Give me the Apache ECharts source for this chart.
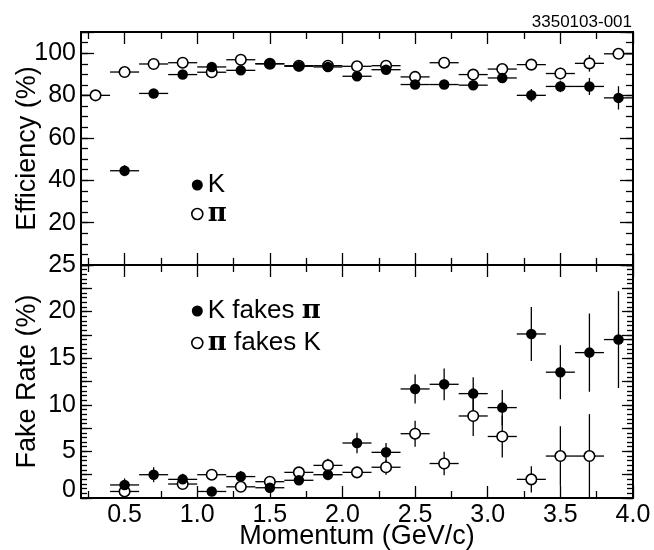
<!DOCTYPE html>
<html><head><meta charset="utf-8">
<script src="https://cdn.jsdelivr.net/npm/echarts@6/dist/echarts.min.js"></script>
<style>html,body{margin:0;padding:0;background:#fff}#c{width:654px;height:550px}</style>
</head><body><div id="c"></div>
<script>
// ---------- data ----------
const momentum = [0.3,0.5,0.7,0.9,1.1,1.3,1.5,1.7,1.9,2.1,2.3,2.5,2.7,2.9,3.1,3.3,3.5,3.7,3.9];
const binHalfWidth = 0.1;
const effK     = [null,44.5,81.0,89.9,93.5,91.9,95.0,93.8,93.5,89.1,92.2,85.2,85.2,84.9,88.3,80.1,84.3,84.3,78.9];
const effKErr  = [null,2.6,1.0,1.0,0.8,0.8,0.8,0.8,0.8,1.0,1.0,1.2,1.2,1.3,1.5,3.0,2.7,4.0,5.5];
const effPi    = [80.1,91.1,94.9,95.5,91.0,96.9,95.0,94.1,94.1,93.8,94.1,88.8,95.5,89.9,92.5,94.6,90.4,95.2,99.7];
const effPiErr = [0.6,0.6,0.6,0.6,0.6,0.8,0.8,0.8,0.8,0.8,0.8,1.0,1.2,1.2,1.4,1.5,2.7,3.9,1.0];
const fakeK     = [null,1.4,2.5,2.0,0.7,2.3,1.1,1.9,2.5,5.9,4.9,11.7,12.2,11.2,9.7,17.6,13.5,15.6,17.0];
const fakeKErr  = [null,0.7,0.8,0.6,0.4,0.6,0.5,0.5,0.6,1.1,1.0,1.55,1.7,1.75,1.9,2.9,2.9,4.2,5.2];
const fakePi    = [null,0.7,null,1.5,2.5,1.2,1.75,2.75,3.5,2.75,3.3,6.9,3.7,8.8,6.6,2.0,4.5,4.5,null];
const fakePiErr = [null,0.5,null,0.5,0.5,0.5,0.5,0.5,0.7,0.6,0.8,1.4,1.25,2.15,2.25,1.4,3.2,4.5,null];

const xLabels = [0.5,1.0,1.5,2.0,2.5,3.0,3.5,4.0];
const xMinorTicks = [0.25,0.75,1.25,1.75,2.25,2.75,3.25,3.75];
const effLabels = [20,40,60,80,100];
const fakeLabels = [0,5,10,15,20,25];

// ---------- layout ----------
const FONT = 'Liberation Sans, Arial, Helvetica, sans-serif';
const L = 81, R = 21;
const grids = [
  {left:L, right:R, top:32, height:233, containLabel:false, outerBoundsMode:'none'},
  {left:L, right:R, top:265, height:233, containLabel:false, outerBoundsMode:'none'}
];
const xMin = 0.2, xMax = 4.0;

const xAxes = [];
function addX(grid, position, ticks, len, extra) {
  xAxes.push(Object.assign({
    gridIndex:grid, type:'value', position:position, min:xMin, max:xMax,
    axisLine:{show:true, onZero:false, lineStyle:{color:'#000', width:2}},
    axisTick:{show:true, inside:true, length:len, customValues:ticks, lineStyle:{color:'#000', width:1.3}},
    axisLabel:{show:false}, splitLine:{show:false}
  }, extra || {}));
}
addX(0,'bottom',xLabels,12);
addX(1,'bottom',xLabels,12,{
  axisLabel:{show:true, customValues:xLabels, formatter:v=>v.toFixed(1), fontSize:25, fontFamily:FONT, color:'#000', margin:5},
  name:'Momentum (GeV/c)', nameLocation:'middle', nameGap:25, nameMoveOverlap:false,
  nameTextStyle:{fontSize:27, fontFamily:FONT, color:'#000'}
});
addX(0,'bottom',xMinorTicks,7);
addX(0,'top',xLabels,12);
addX(0,'top',xMinorTicks,7);
addX(1,'bottom',xMinorTicks,7);
addX(1,'top',xLabels,12);
addX(1,'top',xMinorTicks,7);

const yAxes = [];
function addY(grid, position, min, max, interval, len, extra) {
  yAxes.push(Object.assign({
    gridIndex:grid, type:'value', position:position, min:min, max:max, interval:interval,
    axisLine:{show:true, onZero:false, lineStyle:{color:'#000', width:2}},
    axisTick:{show:true, inside:true, length:len, lineStyle:{color:'#000', width:1.3}},
    axisLabel:{show:false}, splitLine:{show:false}
  }, extra || {}));
}
addY(0,'left',0,110,20,13,{
  axisLabel:{show:true, customValues:effLabels, fontSize:25, fontFamily:FONT, color:'#000', margin:5},
  name:'Efficiency (%)', nameLocation:'middle', nameGap:40, nameMoveOverlap:false,
  nameTextStyle:{fontSize:27, fontFamily:FONT, color:'#000'}
});
addY(1,'left',0,25,2.5,11,{
  axisLabel:{show:true, customValues:fakeLabels, fontSize:25, fontFamily:FONT, color:'#000', margin:5,
    formatter:v=> v===0 ? '{z|0}' : String(v),
    rich:{z:{fontSize:25, fontFamily:FONT, color:'#000', padding:[0,0,16,0]}}},
  name:'Fake Rate (%)', nameLocation:'middle', nameGap:40, nameMoveOverlap:false,
  nameTextStyle:{fontSize:27, fontFamily:FONT, color:'#000'}
});
addY(0,'left',0,110,5,7);
addY(0,'right',0,110,20,13);
addY(0,'right',0,110,5,7);
addY(1,'left',0,25,0.5,6);
addY(1,'right',0,25,2.5,11);
addY(1,'right',0,25,0.5,6);

function pairs(ys){ return momentum.map((x,i)=> ys[i]==null ? null : [x, ys[i]]).filter(Boolean); }
function triples(ys, es){ return momentum.map((x,i)=> ys[i]==null ? null : [x, ys[i], es[i]]).filter(Boolean); }

function errSeries(name, idx, ys, es) {
  return {
    type:'custom', name:name, xAxisIndex:idx, yAxisIndex:idx, clip:true, silent:true, z:2,
    data:triples(ys, es),
    renderItem:function(params, api){
      const x = api.value(0), y = api.value(1), e = api.value(2);
      const l = api.coord([x-binHalfWidth, y]), r = api.coord([x+binHalfWidth, y]);
      const t = api.coord([x, y+e]), b = api.coord([x, y-e]);
      const cs = params.coordSys;
      const clampY = v => Math.max(cs.y, Math.min(cs.y+cs.height, v));
      const st = {stroke:'#000', lineWidth:1.3};
      return {type:'group', children:[
        {type:'line', shape:{x1:l[0], y1:l[1], x2:r[0], y2:r[1]}, style:st},
        {type:'line', shape:{x1:t[0], y1:clampY(t[1]), x2:b[0], y2:clampY(b[1])}, style:st}
      ]};
    }
  };
}
function markSeries(name, idx, ys, open) {
  return {
    type:'scatter', name:name, xAxisIndex:idx, yAxisIndex:idx, z:3, silent:true,
    symbol:'circle', symbolSize:10.5,
    itemStyle: open ? {color:'#fff', borderColor:'#000', borderWidth:1.6, opacity:1}
                    : {color:'#000', borderColor:'#000', borderWidth:0, opacity:1},
    data:pairs(ys)
  };
}

const piFmt = n => n.replace(/π/g, '{p|π}');
const legText = {fontSize:26, fontFamily:FONT, color:'#000', lineHeight:26,
  rich:{p:{fontSize:26, fontWeight:'bold', fontFamily:'DejaVu Serif', color:'#000', lineHeight:26}}};
const filledIcon = {color:'#000', borderWidth:0};
const openIcon = {color:'#fff', borderColor:'#000', borderWidth:1.6};

const option = {
  animation:false,
  backgroundColor:'#fff',
  title:{text:'3350103-001', right:17, top:9, textStyle:{fontSize:17, fontWeight:'normal', fontFamily:FONT, color:'#000'}},
  grid:grids,
  xAxis:xAxes,
  yAxis:yAxes,
  legend:[
    {orient:'vertical', left:186, top:167, padding:5, itemWidth:11, itemHeight:11, itemGap:3, selectedMode:false,
     formatter:piFmt, textStyle:legText,
     data:[{name:'K', icon:'circle', itemStyle:filledIcon},{name:'π', icon:'circle', itemStyle:openIcon}]},
    {orient:'vertical', left:186, top:293, padding:5, itemWidth:11, itemHeight:11, itemGap:6, selectedMode:false,
     formatter:piFmt, textStyle:legText,
     data:[{name:'K fakes π', icon:'circle', itemStyle:filledIcon},{name:'π fakes K', icon:'circle', itemStyle:openIcon}]}
  ],
  series:[
    errSeries('effPiErr',0,effPi,effPiErr),
    errSeries('effKErr',0,effK,effKErr),
    markSeries('π',0,effPi,true),
    markSeries('K',0,effK,false),
    errSeries('fakePiErr',1,fakePi,fakePiErr),
    errSeries('fakeKErr',1,fakeK,fakeKErr),
    markSeries('π fakes K',1,fakePi,true),
    markSeries('K fakes π',1,fakeK,false)
  ]
};
const chart = echarts.init(document.getElementById('c'), null, {renderer:'canvas'});
chart.setOption(option);
</script></body></html>
